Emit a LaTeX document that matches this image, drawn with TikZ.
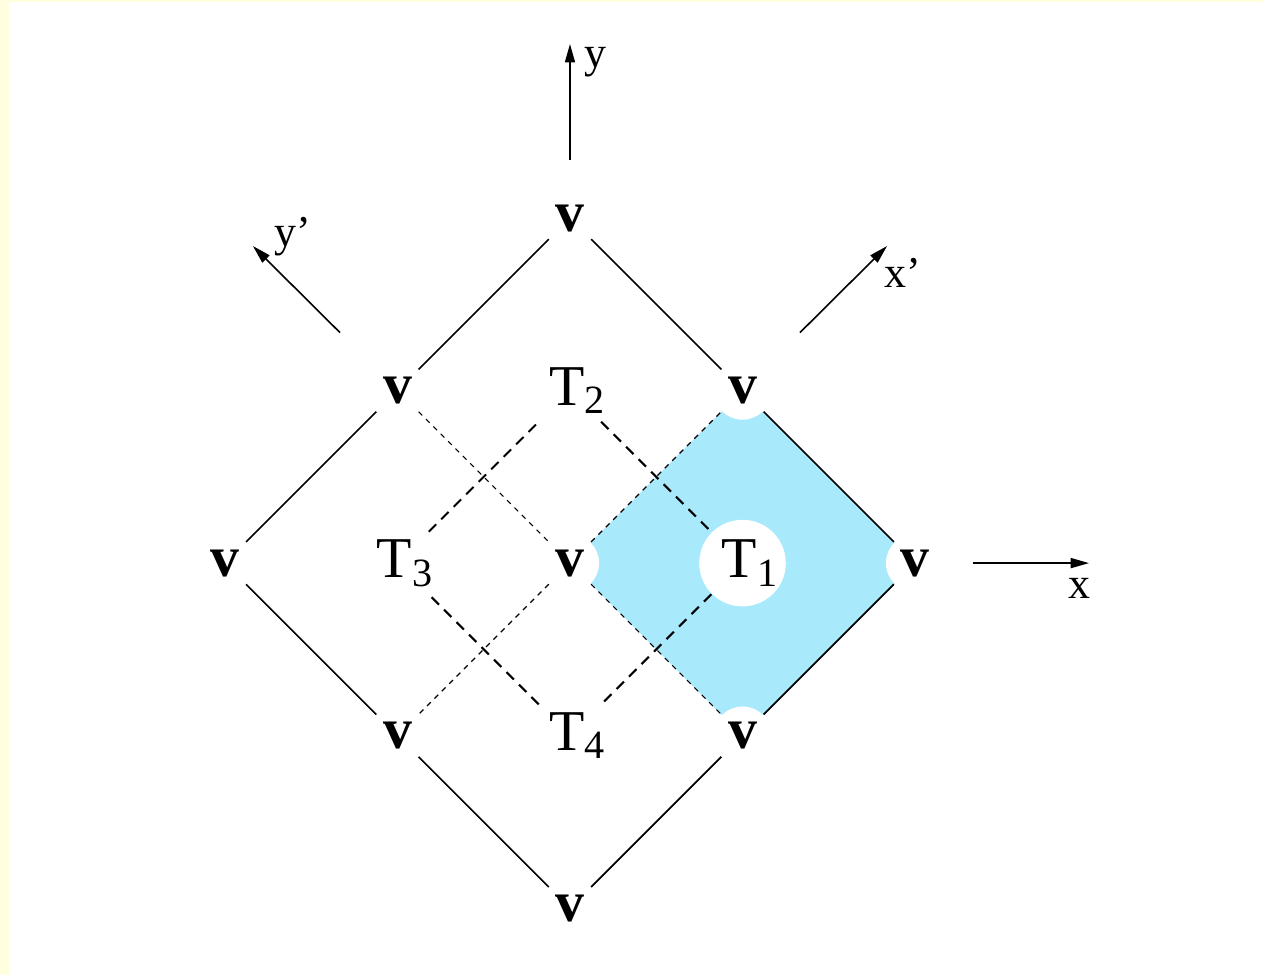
\documentclass[tikz,border=0pt,11pt]{standalone}
\usepackage{fontspec}
\setmainfont{Liberation Serif}
\usepackage{xcolor}
\usepackage{tikz}
\usetikzlibrary{arrows.meta, backgrounds}
\definecolor{cellblue}{RGB}{168,234,252}
\definecolor{pageyellow}{RGB}{255,255,224}
\newcommand{\tsub}[1]{\kern4pt T\textsubscript{#1}}
\tikzset{
  vtx/.style={circle, fill=white, inner sep=0pt, minimum size=14.5pt,
              font=\Large\bfseries},
  tsite/.style={circle, inner sep=0pt, minimum size=21pt, font=\Large},
  edge/.style={line width=0.4pt},
  bond/.style={line width=0.3pt, dash pattern=on 1.3pt off 1.3pt},
  link/.style={line width=0.5pt, dash pattern=on 2.6pt off 1.8pt},
  axis/.style={-{Triangle[length=4.6pt,width=2.5pt]}, line width=0.4pt},
  axlbl/.style={font=\normalsize, inner sep=0pt}
}

\begin{document}
\begin{tikzpicture}[x=43pt, y=43pt]
  \useasboundingbox (-3.304,-2.388) rectangle (4.017,3.264);
  % lattice sites
  \node[vtx] (vn)  at (0,2)   {v};
  \node[vtx] (vnw) at (-1,1)  {v};
  \node[vtx] (vne) at (1,1)   {v};
  \node[vtx] (vw)  at (-2,0)  {v};
  \node[vtx] (vc)  at (0,0)   {v};
  \node[vtx] (ve)  at (2,0)   {v};
  \node[vtx] (vsw) at (-1,-1) {v};
  \node[vtx] (vse) at (1,-1)  {v};
  \node[vtx] (vs)  at (0,-2)  {v};
  \node[tsite, fill=white] (t1) at (1,0) {\tsub{1}};
  \node[tsite] (t2) at (0,1)  {\tsub{2}};
  \node[tsite] (t3) at (-1,0) {\tsub{3}};
  \node[tsite] (t4) at (0,-1) {\tsub{4}};
  % shaded cell
  \begin{scope}[on background layer]
    \fill[pageyellow] (-3.304,-2.388) rectangle (-3.252,3.264);
    \fill[pageyellow] (-3.304,3.252) rectangle (4.017,3.264);
    \fill[cellblue] (vc.center) -- (vne.center) -- (ve.center) -- (vse.center) -- cycle;
  \end{scope}
  % edges
  \draw[edge] (vn)--(vnw); \draw[edge] (vn)--(vne);
  \draw[edge] (vnw)--(vw); \draw[edge] (vw)--(vsw);
  \draw[edge] (vsw)--(vs); \draw[edge] (vs)--(vse);
  \draw[edge] (vne)--(ve); \draw[edge] (ve)--(vse);
  \draw[bond] (vnw)--(vc); \draw[bond] (vc)--(vsw);
  \draw[bond] (vc)--(vne); \draw[bond] (vc)--(vse);
  \draw[link] (t2)--(t1); \draw[link] (t1)--(t4);
  \draw[link] (t4)--(t3); \draw[link] (t3)--(t2);
  % axes
  \coordinate (yfoot) at (0,2.336);   \coordinate (ytip) at (0,3.009);
  \coordinate (xfoot) at (2.336,0);   \coordinate (xtip) at (3.009,0);
  \coordinate (xpfoot) at (1.333,1.336);  \coordinate (xptip) at (1.838,1.838);
  \coordinate (ypfoot) at (-1.333,1.336); \coordinate (yptip) at (-1.838,1.838);
  \draw[axis] (yfoot)--(ytip);   \draw[axis] (xfoot)--(xtip);
  \draw[axis] (xpfoot)--(xptip); \draw[axis] (ypfoot)--(yptip);
  \node[axlbl] (ylbl)  at (0.145,2.904)  {y};
  \node[axlbl] (xlbl)  at (2.951,-0.145) {x};
  \node[axlbl] (xplbl) at (1.930,1.681)  {x'};
  \node[axlbl] (yplbl) at (-1.606,1.890) {y'};
\end{tikzpicture}
\end{document}
